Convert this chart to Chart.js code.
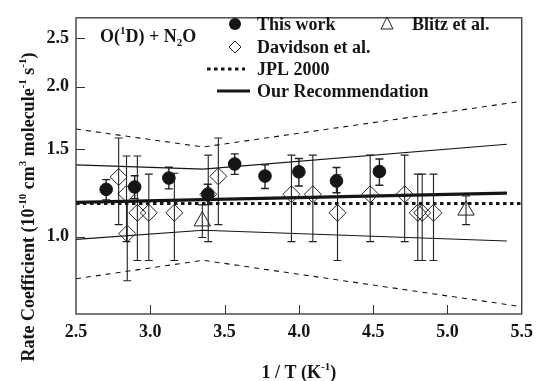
<!DOCTYPE html>
<html><head><meta charset="utf-8">
<script src="https://cdn.jsdelivr.net/npm/chart.js@4/dist/chart.umd.min.js"></script>
<style>html,body{margin:0;padding:0;background:#fff}#wrap{width:541px;height:381px}</style>
</head><body><div id="wrap"><canvas id="c" width="541" height="381"></canvas></div>
<script>
// ---- data ----
const xTicks = [2.5, 3.0, 3.5, 4.0, 4.5, 5.0, 5.5];
const yTicks = [1.0, 1.5, 2.0, 2.5];

const thisWorkX  = [2.703, 2.895, 3.125, 3.387, 3.568, 3.772, 4.000, 4.253, 4.542];
const thisWorkY  = [1.245, 1.259, 1.312, 1.217, 1.400, 1.324, 1.350, 1.294, 1.352];
const thisWorkLo = [1.186, 1.193, 1.248, 1.160, 1.334, 1.250, 1.264, 1.226, 1.269];
const thisWorkHi = [1.302, 1.326, 1.379, 1.275, 1.467, 1.394, 1.436, 1.377, 1.432];

const davidsonX  = [2.787, 2.840, 2.845, 2.913, 2.990, 3.162, 3.390, 3.458, 3.950, 4.094, 4.260, 4.480, 4.712, 4.800, 4.830, 4.906];
const davidsonY  = [1.318, 1.220, 1.015, 1.117, 1.117, 1.117, 1.217, 1.322, 1.217, 1.217, 1.117, 1.217, 1.217, 1.117, 1.117, 1.117];
const davidsonLo = [1.058, 0.978, 0.816, 0.896, 0.896, 0.896, 0.978, 1.058, 0.978, 0.978, 0.896, 0.978, 0.978, 0.896, 0.896, 0.896];
const davidsonHi = [1.578, 1.452, 1.175, 1.452, 1.336, 1.341, 1.458, 1.578, 1.458, 1.458, 1.332, 1.458, 1.458, 1.336, 1.336, 1.336];

const blitzX  = [3.350, 5.125];
const blitzY  = [1.075, 1.130];
const blitzLo = [0.997, 1.058];
const blitzHi = [1.159, 1.207];

const jplX = [2.5, 5.5];
const jplY = [1.166, 1.166];
const jplBandX  = [2.5, 3.356, 5.5];
const jplUpperY = [1.645, 1.514, 1.870];
const jplLowerY = [0.824, 0.897, 0.724];

const recX = [2.5, 5.4];
const recY = [1.172, 1.224];
const recBandX  = [2.5, 3.356, 5.4];
const recUpperY = [1.394, 1.367, 1.533];
const recLowerY = [0.988, 1.031, 0.981];

// ---- helpers ----
const zip = (xs, ys) => xs.map((x, i) => ({x: x, y: ys[i]}));
const FONT = 'Liberation Serif, Times New Roman, serif';
const INK = '#151515';

function drawRich(ctx, segs, x, y, size, align) {
  const big = 'bold ' + size + 'px ' + FONT;
  const small = 'bold ' + Math.round(size * 0.62) + 'px ' + FONT;
  let w = 0;
  segs.forEach(s => { ctx.font = s[1] ? small : big; w += ctx.measureText(s[0]).width; });
  let cx = align === 'center' ? x - w / 2 : x;
  ctx.textAlign = 'left';
  ctx.textBaseline = 'alphabetic';
  segs.forEach(s => {
    ctx.font = s[1] ? small : big;
    const dy = s[1] === 'sup' ? -size * 0.42 : (s[1] === 'sub' ? size * 0.22 : 0);
    ctx.fillText(s[0], cx, y + dy);
    cx += ctx.measureText(s[0]).width;
  });
}

const errorBars = {
  id: 'errorBars',
  beforeDatasetsDraw(chart) {
    const ctx = chart.ctx, xs = chart.scales.x, ys = chart.scales.y;
    const sets = [
      [thisWorkX, thisWorkLo, thisWorkHi, 1.4, 4],
      [davidsonX, davidsonLo, davidsonHi, 1.1, 4],
      [blitzX, blitzLo, blitzHi, 1.1, 4]
    ];
    ctx.save();
    ctx.strokeStyle = '#222';
    sets.forEach(([X, L, H, lw, cap]) => {
      ctx.lineWidth = lw;
      X.forEach((xv, i) => {
        const px = xs.getPixelForValue(xv);
        const pl = ys.getPixelForValue(L[i]);
        const ph = ys.getPixelForValue(H[i]);
        ctx.beginPath();
        ctx.moveTo(px, pl); ctx.lineTo(px, ph);
        ctx.moveTo(px - cap, pl); ctx.lineTo(px + cap, pl);
        ctx.moveTo(px - cap, ph); ctx.lineTo(px + cap, ph);
        ctx.stroke();
      });
    });
    ctx.restore();
  }
};

const decor = {
  id: 'decor',
  afterDraw(chart) {
    const ctx = chart.ctx, a = chart.chartArea, xs = chart.scales.x, ys = chart.scales.y;
    ctx.save();
    // frame
    ctx.strokeStyle = '#333';
    ctx.lineWidth = 1.3;
    ctx.strokeRect(a.left, a.top, a.right - a.left, a.bottom - a.top);
    // inward ticks
    ctx.beginPath();
    xTicks.forEach(v => {
      if (v === xs.min || v === xs.max) return;
      const px = Math.round(xs.getPixelForValue(v)) + 0.5;
      ctx.moveTo(px, a.bottom); ctx.lineTo(px, a.bottom - 9);
    });
    yTicks.forEach(v => {
      const py = Math.round(ys.getPixelForValue(v)) + 0.5;
      ctx.moveTo(a.left, py); ctx.lineTo(a.left + 9, py);
    });
    ctx.lineWidth = 1;
    ctx.stroke();

    ctx.fillStyle = INK;
    // reaction label
    drawRich(ctx, [['O('], ['1', 'sup'], ['D) + N'], ['2', 'sub'], ['O']], 100, 42, 18, 'left');

    // legend
    ctx.font = 'bold 18px ' + FONT;
    ctx.textAlign = 'left';
    ctx.textBaseline = 'alphabetic';
    // This work
    ctx.beginPath(); ctx.arc(235, 24, 6, 0, Math.PI * 2); ctx.fill();
    ctx.fillText('This work', 257, 30);
    // Davidson
    ctx.strokeStyle = '#222'; ctx.lineWidth = 1;
    ctx.beginPath(); ctx.moveTo(235, 41); ctx.lineTo(241, 47); ctx.lineTo(235, 53); ctx.lineTo(229, 47); ctx.closePath(); ctx.stroke();
    ctx.fillText('Davidson et al.', 257, 53);
    // JPL
    ctx.lineWidth = 3; ctx.setLineDash([3.5, 3.5]); ctx.strokeStyle = INK;
    ctx.beginPath(); ctx.moveTo(207, 69); ctx.lineTo(245, 69); ctx.stroke();
    ctx.setLineDash([]);
    ctx.fillText('JPL 2000', 257, 75);
    // Recommendation
    ctx.lineWidth = 3;
    ctx.beginPath(); ctx.moveTo(217, 91); ctx.lineTo(250, 91); ctx.stroke();
    ctx.fillText('Our Recommendation', 257, 97);
    // Blitz
    ctx.lineWidth = 1; ctx.strokeStyle = '#222';
    ctx.beginPath(); ctx.moveTo(387, 17); ctx.lineTo(393, 29); ctx.lineTo(381, 29); ctx.closePath(); ctx.stroke();
    ctx.fillText('Blitz et al.', 412, 30);

    // axis titles
    drawRich(ctx, [['1 / T (K'], ['-1', 'sup'], [')']], (a.left + a.right) / 2, 378, 18, 'center');
    ctx.save();
    ctx.translate(34, 207);
    ctx.rotate(-Math.PI / 2);
    drawRich(ctx, [['Rate Coefficient (10'], ['-10', 'sup'], [' cm'], ['3', 'sup'], [' molecule'], ['-1', 'sup'], [' s'], ['-1', 'sup'], [')']], 0, 0, 18, 'center');
    ctx.restore();
    ctx.restore();
  }
};

const lineDs = (data, width, dash) => ({
  type: 'scatter', data: data, showLine: true, pointRadius: 0, borderColor: INK,
  borderWidth: width, borderDash: dash || [], fill: false, tension: 0
});

new Chart(document.getElementById('c'), {
  type: 'scatter',
  data: {
    datasets: [
      { label: 'This work', data: zip(thisWorkX, thisWorkY), pointStyle: 'circle', pointRadius: 6.3,
        backgroundColor: INK, borderColor: INK, borderWidth: 1 },
      { label: 'Davidson et al.', data: zip(davidsonX, davidsonY), pointStyle: 'rectRot', pointRadius: 8.5,
        backgroundColor: 'rgba(0,0,0,0)', borderColor: '#222', borderWidth: 1 },
      { label: 'Blitz et al.', data: zip(blitzX, blitzY), pointStyle: 'triangle', pointRadius: 9.5,
        backgroundColor: 'rgba(0,0,0,0)', borderColor: '#222', borderWidth: 1 },
      Object.assign(lineDs(zip(jplX, jplY), 3, [3.5, 3.5]), {label: 'JPL 2000'}),
      Object.assign(lineDs(zip(recX, recY), 3.2), {label: 'Our Recommendation'}),
      lineDs(zip(recBandX, recUpperY), 1.1),
      lineDs(zip(recBandX, recLowerY), 1.1),
      lineDs(zip(jplBandX, jplUpperY), 1.1, [5, 5]),
      lineDs(zip(jplBandX, jplLowerY), 1.1, [5, 5])
    ]
  },
  options: {
    responsive: false, animation: false, devicePixelRatio: 1,
    layout: { padding: { top: 13, right: 13, left: 0, bottom: 0 } },
    plugins: { legend: { display: false }, tooltip: { enabled: false } },
    scales: {
      x: {
        type: 'linear', min: 2.5, max: 5.5,
        afterBuildTicks: s => { s.ticks = xTicks.map(v => ({value: v})); },
        afterFit: s => { s.height = 67; },
        grid: { display: false, drawTicks: false }, border: { display: false },
        ticks: { padding: 8, color: INK, font: { family: FONT, size: 18, weight: 'bold' },
                 callback: v => Number(v).toFixed(1), maxRotation: 0, autoSkip: false }
      },
      y: {
        type: 'logarithmic', min: 0.703, max: 2.75,
        afterBuildTicks: s => { s.ticks = yTicks.map(v => ({value: v})); },
        afterFit: s => { s.width = 76; },
        grid: { display: false, drawTicks: false }, border: { display: false },
        ticks: { padding: 7, color: INK, font: { family: FONT, size: 18, weight: 'bold' },
                 callback: v => Number(v).toFixed(1), autoSkip: false }
      }
    }
  },
  plugins: [errorBars, decor]
});
</script>
</body></html>
